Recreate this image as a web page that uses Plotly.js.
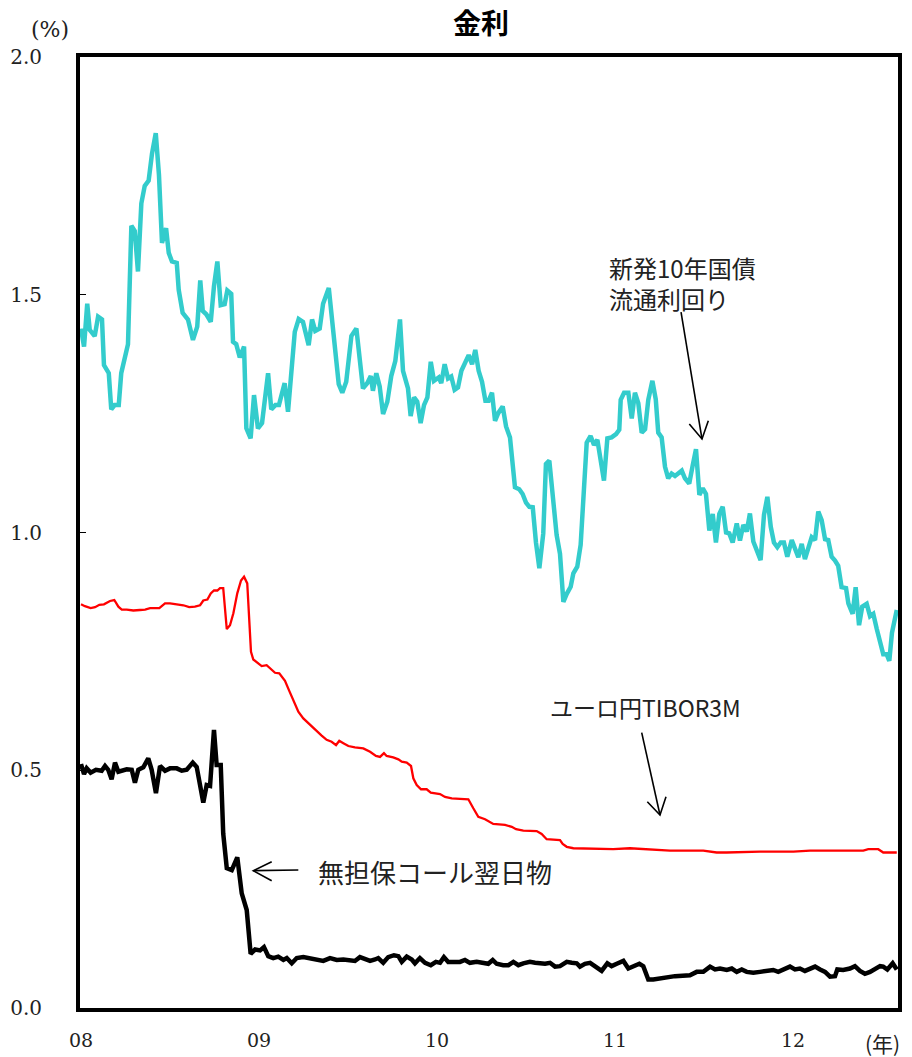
<!DOCTYPE html>
<html>
<head>
<meta charset="utf-8">
<script src="https://cdn.plot.ly/plotly-3.0.1.min.js"></script>
<style>
html,body{margin:0;padding:0;background:#fff;}
#chart{width:912px;height:1057px;}
</style>
</head>
<body>
<div id="chart"></div>
<script>
// ---- Data (x in decimal years, y in %) ----
const jgbX = [2008.000,2008.017,2008.035,2008.049,2008.077,2008.096,2008.118,2008.129,2008.156,2008.170,2008.189,2008.212,2008.226,2008.264,2008.283,2008.302,2008.320,2008.339,2008.358,2008.380,2008.399,2008.420,2008.438,2008.455,2008.478,2008.493,2008.511,2008.538,2008.549,2008.571,2008.601,2008.629,2008.653,2008.670,2008.684,2008.704,2008.729,2008.747,2008.766,2008.785,2008.807,2008.822,2008.844,2008.854,2008.872,2008.892,2008.916,2008.929,2008.953,2008.972,2008.994,2009.017,2009.051,2009.069,2009.092,2009.112,2009.144,2009.163,2009.201,2009.223,2009.247,2009.279,2009.298,2009.316,2009.341,2009.360,2009.392,2009.425,2009.448,2009.468,2009.490,2009.519,2009.547,2009.584,2009.608,2009.628,2009.640,2009.659,2009.678,2009.697,2009.721,2009.743,2009.766,2009.792,2009.809,2009.837,2009.852,2009.871,2009.889,2009.908,2009.927,2009.946,2009.965,2009.983,2010.010,2010.024,2010.043,2010.062,2010.080,2010.099,2010.118,2010.137,2010.159,2010.178,2010.197,2010.215,2010.234,2010.253,2010.272,2010.290,2010.309,2010.326,2010.344,2010.369,2010.388,2010.410,2010.438,2010.462,2010.481,2010.500,2010.519,2010.538,2010.556,2010.575,2010.597,2010.612,2010.631,2010.653,2010.672,2010.691,2010.710,2010.729,2010.751,2010.766,2010.788,2010.807,2010.822,2010.841,2010.863,2010.882,2010.901,2010.920,2010.938,2010.957,2010.981,2011.006,2011.024,2011.032,2011.051,2011.075,2011.094,2011.112,2011.131,2011.150,2011.169,2011.187,2011.210,2011.229,2011.243,2011.262,2011.281,2011.299,2011.318,2011.337,2011.356,2011.375,2011.393,2011.417,2011.436,2011.455,2011.474,2011.493,2011.511,2011.530,2011.549,2011.567,2011.586,2011.605,2011.624,2011.642,2011.661,2011.684,2011.702,2011.721,2011.740,2011.758,2011.777,2011.796,2011.818,2011.837,2011.856,2011.875,2011.893,2011.912,2011.931,2011.949,2011.968,2011.993,2012.011,2012.030,2012.049,2012.067,2012.086,2012.105,2012.124,2012.142,2012.161,2012.180,2012.198,2012.217,2012.236,2012.254,2012.273,2012.298,2012.311,2012.335,2012.352,2012.371,2012.389,2012.414,2012.433,2012.451,2012.470,2012.489,2012.507,2012.526,2012.541,2012.556,2012.583];
const jgbY = [1.429,1.391,1.481,1.426,1.413,1.454,1.448,1.352,1.335,1.259,1.268,1.268,1.335,1.396,1.645,1.634,1.549,1.692,1.729,1.740,1.797,1.840,1.752,1.609,1.640,1.588,1.570,1.567,1.510,1.462,1.448,1.405,1.433,1.530,1.466,1.459,1.443,1.518,1.570,1.478,1.480,1.509,1.502,1.401,1.396,1.368,1.391,1.219,1.198,1.289,1.219,1.230,1.335,1.259,1.268,1.268,1.314,1.254,1.422,1.449,1.443,1.394,1.448,1.424,1.429,1.481,1.514,1.401,1.312,1.294,1.317,1.413,1.429,1.303,1.314,1.329,1.298,1.335,1.307,1.249,1.275,1.329,1.361,1.448,1.340,1.303,1.245,1.284,1.275,1.230,1.268,1.284,1.359,1.319,1.326,1.314,1.354,1.324,1.328,1.300,1.305,1.340,1.361,1.373,1.354,1.384,1.340,1.317,1.277,1.277,1.294,1.235,1.251,1.265,1.223,1.200,1.095,1.091,1.081,1.063,1.054,1.053,0.979,0.925,0.998,1.144,1.151,1.068,0.995,0.955,0.854,0.871,0.886,0.914,0.928,0.974,1.068,1.189,1.203,1.184,1.195,1.151,1.109,1.198,1.200,1.207,1.216,1.279,1.294,1.294,1.240,1.294,1.272,1.210,1.217,1.279,1.319,1.280,1.210,1.200,1.138,1.114,1.124,1.119,1.124,1.130,1.114,1.103,1.140,1.175,1.079,1.093,1.081,1.004,1.039,0.979,1.039,1.054,1.000,0.998,0.979,1.019,0.983,1.016,1.002,1.040,0.981,0.962,0.942,1.037,1.075,1.012,0.979,0.969,0.979,0.979,0.949,0.984,0.967,0.948,0.976,0.944,0.967,0.990,0.984,1.044,1.026,0.986,0.984,0.949,0.941,0.930,0.885,0.883,0.851,0.829,0.885,0.805,0.844,0.850,0.824,0.829,0.798,0.770,0.744,0.744,0.730,0.789,0.837];

const tiborX = [2008.000,2008.022,2008.054,2008.079,2008.103,2008.129,2008.163,2008.187,2008.210,2008.229,2008.257,2008.294,2008.331,2008.360,2008.388,2008.440,2008.472,2008.500,2008.538,2008.575,2008.608,2008.640,2008.669,2008.687,2008.710,2008.729,2008.747,2008.766,2008.781,2008.799,2008.819,2008.837,2008.856,2008.878,2008.899,2008.916,2008.934,2008.949,2008.955,2008.968,2008.991,2009.015,2009.043,2009.066,2009.090,2009.114,2009.146,2009.170,2009.197,2009.221,2009.249,2009.287,2009.324,2009.352,2009.380,2009.408,2009.433,2009.451,2009.474,2009.502,2009.539,2009.586,2009.624,2009.657,2009.680,2009.702,2009.717,2009.754,2009.783,2009.802,2009.830,2009.854,2009.867,2009.886,2009.910,2009.942,2009.965,2010.017,2010.045,2010.083,2010.129,2010.176,2010.204,2010.232,2010.270,2010.316,2010.382,2010.420,2010.444,2010.485,2010.560,2010.588,2010.616,2010.691,2010.706,2010.729,2010.766,2010.897,2010.990,2011.084,2011.178,2011.233,2011.309,2011.496,2011.571,2011.627,2011.815,2012.002,2012.096,2012.395,2012.423,2012.479,2012.507,2012.583];
const tiborY = [0.849,0.845,0.841,0.843,0.848,0.849,0.856,0.858,0.844,0.838,0.838,0.836,0.837,0.838,0.841,0.841,0.851,0.851,0.849,0.847,0.843,0.844,0.847,0.857,0.859,0.872,0.878,0.878,0.883,0.883,0.797,0.805,0.830,0.872,0.899,0.907,0.893,0.802,0.749,0.733,0.726,0.719,0.721,0.714,0.705,0.704,0.688,0.667,0.644,0.623,0.609,0.595,0.583,0.573,0.564,0.560,0.553,0.562,0.557,0.551,0.548,0.546,0.539,0.530,0.528,0.536,0.530,0.527,0.523,0.518,0.516,0.509,0.483,0.469,0.460,0.460,0.453,0.450,0.444,0.441,0.440,0.439,0.420,0.402,0.397,0.387,0.385,0.381,0.376,0.373,0.372,0.366,0.355,0.353,0.345,0.339,0.336,0.334,0.334,0.336,0.334,0.332,0.331,0.331,0.327,0.327,0.329,0.329,0.331,0.331,0.334,0.334,0.327,0.327];

const callX = [2008.000,2008.017,2008.032,2008.054,2008.084,2008.116,2008.135,2008.153,2008.172,2008.191,2008.210,2008.234,2008.257,2008.285,2008.303,2008.322,2008.350,2008.378,2008.397,2008.421,2008.444,2008.472,2008.500,2008.538,2008.566,2008.594,2008.628,2008.650,2008.687,2008.706,2008.725,2008.747,2008.762,2008.785,2008.799,2008.819,2008.847,2008.878,2008.903,2008.931,2008.953,2008.978,2009.006,2009.028,2009.052,2009.080,2009.108,2009.137,2009.156,2009.184,2009.212,2009.249,2009.287,2009.324,2009.361,2009.399,2009.437,2009.474,2009.511,2009.539,2009.567,2009.605,2009.624,2009.652,2009.670,2009.698,2009.726,2009.758,2009.783,2009.802,2009.830,2009.858,2009.876,2009.904,2009.933,2009.965,2009.994,2010.017,2010.039,2010.063,2010.101,2010.129,2010.157,2010.185,2010.223,2010.260,2010.288,2010.313,2010.335,2010.372,2010.401,2010.429,2010.457,2010.485,2010.522,2010.551,2010.579,2010.607,2010.635,2010.663,2010.691,2010.729,2010.757,2010.785,2010.803,2010.831,2010.860,2010.888,2010.925,2010.957,2010.981,2011.010,2011.047,2011.075,2011.103,2011.137,2011.159,2011.187,2011.215,2011.253,2011.299,2011.337,2011.421,2011.459,2011.496,2011.534,2011.562,2011.590,2011.628,2011.656,2011.684,2011.712,2011.740,2011.777,2011.815,2011.852,2011.889,2011.917,2011.946,2011.983,2012.011,2012.039,2012.067,2012.096,2012.124,2012.152,2012.180,2012.208,2012.236,2012.249,2012.282,2012.320,2012.348,2012.376,2012.404,2012.433,2012.461,2012.489,2012.507,2012.530,2012.560,2012.583];
const callY = [0.513,0.492,0.504,0.495,0.501,0.499,0.509,0.501,0.481,0.516,0.497,0.499,0.502,0.501,0.474,0.501,0.506,0.525,0.501,0.452,0.509,0.499,0.504,0.504,0.499,0.501,0.516,0.507,0.432,0.469,0.467,0.585,0.511,0.511,0.367,0.294,0.290,0.317,0.241,0.206,0.114,0.123,0.121,0.128,0.109,0.105,0.108,0.101,0.105,0.094,0.105,0.107,0.105,0.102,0.099,0.105,0.101,0.102,0.101,0.099,0.107,0.102,0.099,0.102,0.105,0.095,0.107,0.111,0.109,0.097,0.108,0.102,0.094,0.105,0.095,0.090,0.097,0.095,0.107,0.097,0.097,0.097,0.101,0.095,0.097,0.094,0.093,0.101,0.093,0.090,0.090,0.097,0.090,0.094,0.097,0.095,0.094,0.093,0.095,0.087,0.088,0.097,0.095,0.094,0.087,0.093,0.095,0.087,0.078,0.094,0.088,0.093,0.099,0.083,0.087,0.093,0.088,0.060,0.060,0.062,0.065,0.067,0.069,0.076,0.076,0.087,0.081,0.083,0.080,0.083,0.076,0.081,0.076,0.074,0.076,0.078,0.080,0.076,0.081,0.087,0.081,0.083,0.078,0.083,0.087,0.081,0.076,0.066,0.067,0.081,0.080,0.083,0.088,0.078,0.072,0.076,0.083,0.088,0.087,0.081,0.094,0.081];

const yTickVals = [0, 0.5, 1.0, 1.5, 2.0];
const yTickText = ['0.0', '0.5', '1.0', '1.5', '2.0'];
const xTickVals = [2008, 2009, 2010, 2011, 2012];
const xTickText = ['08', '09', '10', '11', '12'];

const serif = 'DejaVu Serif';
const jp = 'Noto Sans CJK JP';

const traces = [
  {x: tiborX, y: tiborY, mode: 'lines', line: {color: '#ff0000', width: 2.3}, name: 'ユーロ円TIBOR3M', hoverinfo: 'skip'},
  {x: callX, y: callY, mode: 'lines', line: {color: '#000000', width: 4.5}, name: '無担保コール翌日物', hoverinfo: 'skip'},
  {x: jgbX, y: jgbY, mode: 'lines', line: {color: '#33cccc', width: 4.5}, name: '新発10年国債流通利回り', hoverinfo: 'skip'}
];

const ann = (text, x, y, size) => ({text, x, y, xref: 'x', yref: 'y', xanchor: 'left', yanchor: 'middle', align: 'left', showarrow: false, font: {family: jp, size: size, color: '#222'}});

const arrowLine = (x0, y0, x1, y1) => ({type: 'line', xref: 'x', yref: 'y', x0, y0, x1, y1, line: {color: '#000', width: 1.6}});
const arrowHead = (ax, ay, tx, ty, bx, by) => ({type: 'path', xref: 'x', yref: 'y', path: `M${ax},${ay} L${tx},${ty} L${bx},${by}`, line: {color: '#000', width: 1.6}});

const layout = {
  width: 912, height: 1057,
  margin: {l: 80, r: 14, t: 57, b: 49},
  paper_bgcolor: '#fff', plot_bgcolor: '#fff',
  showlegend: false,
  title: {text: '<b>金利</b>', font: {family: jp, size: 28, color: '#000'}, x: 481/912, xref: 'container', xanchor: 'center', y: 1 - 24/1057, yref: 'container', yanchor: 'middle'},
  xaxis: {
    range: [2008 + (80 - 81)/178, 2008 + (898 - 81)/178],
    tickvals: xTickVals, ticktext: xTickText,
    showgrid: false, zeroline: false,
    showline: true, mirror: true, linecolor: '#000', linewidth: 4,
    ticks: '', ticklabelstandoff: 12,
    tickfont: {family: serif, size: 19, color: '#222'}
  },
  yaxis: {
    range: [0, 2.0],
    tickvals: yTickVals, ticktext: yTickText,
    showgrid: false, zeroline: false,
    showline: true, mirror: true, linecolor: '#000', linewidth: 4,
    ticks: 'inside', ticklen: 6, tickwidth: 1, tickcolor: '#000',
    ticklabelstandoff: 30,
    tickfont: {family: serif, size: 20, color: '#222'}
  },
  annotations: [
    ann('新発10年国債<br>流通利回り', 2010.955, 1.524, 24),
    ann('ユーロ円TIBOR3M', 2010.624, 0.633, 23),
    ann('無担保コール翌日物', 2009.320, 0.288, 26),
    {text: '(%)', xref: 'paper', yref: 'paper', x: (50 - 80)/816, y: (1008 - 30)/951, xanchor: 'center', yanchor: 'middle', showarrow: false, font: {family: serif, size: 22, color: '#222'}},
    {text: '(年)', xref: 'paper', yref: 'paper', x: (900 - 80)/816, y: (1008 - 1043)/951, xanchor: 'right', yanchor: 'middle', showarrow: false, font: {family: jp, size: 21, color: '#222'}}
  ],
  shapes: [
    arrowLine(2011.371, 1.4637, 2011.4888, 1.1966),
    arrowHead(2011.4174, 1.2282, 2011.4888, 1.1966, 2011.5242, 1.2351),
    arrowLine(2011.150, 0.579, 2011.2528, 0.4059),
    arrowHead(2011.1815, 0.4339, 2011.2528, 0.4059, 2011.2865, 0.4444),
    arrowLine(2009.2208, 0.2902, 2008.968, 0.2888),
    arrowHead(2009.0713, 0.3077, 2008.968, 0.2888, 2009.0713, 0.2677)
  ]
};

Plotly.newPlot('chart', traces, layout, {displayModeBar: false, staticPlot: true});
</script>
</body>
</html>
